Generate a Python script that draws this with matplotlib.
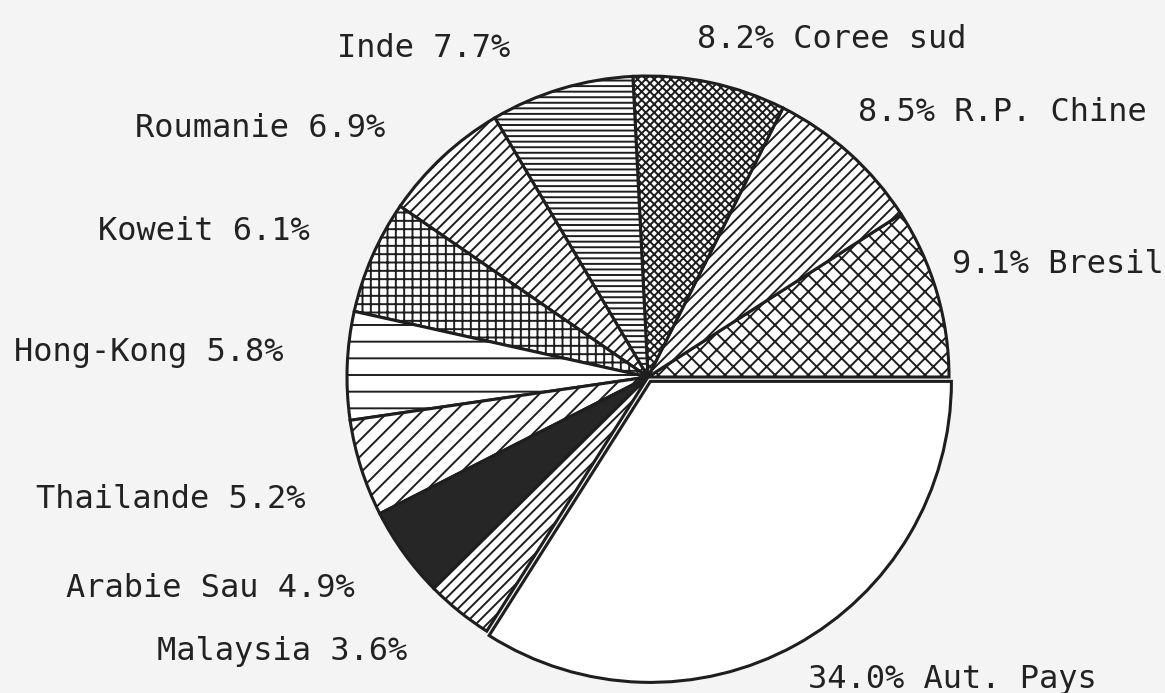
import matplotlib
matplotlib.use("Agg")
from matplotlib import pyplot as plt

# parts du marche, dans le sens trigonometrique a partir de 3 h
pays = ["Bresil", "R.P. Chine", "Coree sud", "Inde", "Roumanie", "Koweit",
        "Hong-Kong", "Thailande", "Arabie Sau", "Malaysia", "Aut. Pays"]
parts = [9.1, 8.5, 8.2, 7.7, 6.9, 6.1, 5.8, 5.2, 4.9, 3.6, 34.0]

# style de chaque part
hachures = ["xx", "///", "xxxx", "---", "///", "++", "-", "//", "", "///", ""]
fonds = ["white"] * 8 + ["#262626", "white", "white"]
ecart = [0] * 10 + [5]

# position des etiquettes (pixels), cote gauche = texte aligne a droite
etiq_x = [952, 858, 697, 510, 385, 310, 283, 305, 355, 407, 808]
etiq_y = [273, 121, 48, 57, 137, 240, 361, 508, 597, 660, 688]
a_droite = [True, True, True, False, False, False, False, False, False, False, True]

W, H = 1165, 693
plt.rcParams['hatch.linewidth'] = 1.4

fig = plt.figure(figsize=(W / 100, H / 100), dpi=100)
fig.patch.set_facecolor('#f4f4f4')
ax = fig.add_axes([0, 0, 1, 1])

wedges, _ = ax.pie(parts, startangle=0, counterclock=True, radius=301,
                   center=(648, H - 377), explode=ecart, colors=fonds,
                   wedgeprops=dict(edgecolor='#1e1e1e', linewidth=2.2))
for w, h in zip(wedges, hachures):
    if h:
        w.set_hatch(h)

for nom, p, x, y, droite in zip(pays, parts, etiq_x, etiq_y, a_droite):
    if droite:
        txt = f"{p:.1f}% {nom}"
        ha = 'left'
    else:
        txt = f"{nom} {p:.1f}%"
        ha = 'right'
    ax.text(x, H - y, txt, ha=ha, va='baseline', fontsize=23,
            family='DejaVu Sans Mono', color='#222222')

ax.set_xlim(0, W)
ax.set_ylim(0, H)
ax.set_aspect('equal')
ax.axis('off')

fig.savefig("out.png", dpi=100, facecolor=fig.get_facecolor())
